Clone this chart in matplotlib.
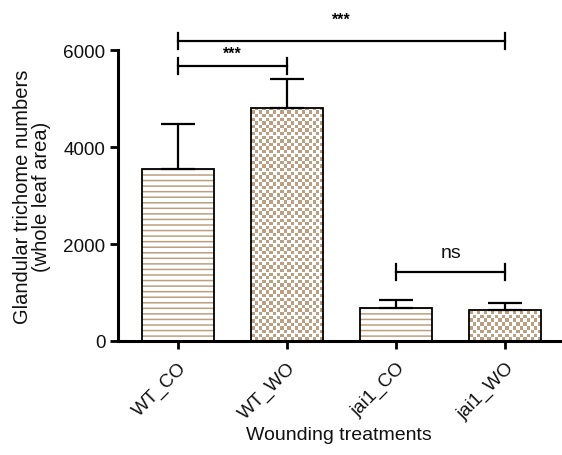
import numpy as np
import matplotlib
matplotlib.use('agg')
import matplotlib.pyplot as plt

# data
groups = ['WT_CO', 'WT_WO', 'jai1_CO', 'jai1_WO']
means = [3550, 4800, 680, 640]
errors = [930, 600, 160, 140]
patterns = ['lines', 'checker', 'lines', 'checker']

# significance brackets: (left group, right group, height, label)
brackets = [(0, 3, 6190, '***'), (0, 1, 5670, '***'), (2, 3, 1420, 'ns')]
label_gap = [300, 100, 230]  # space between bracket and its label

tan = '#bc9f80'

plt.rcParams['font.family'] = ['Liberation Sans', 'DejaVu Sans']
plt.rcParams['hatch.linewidth'] = 1.1

fig = plt.figure(figsize=(5.62, 4.56), dpi=100)
ax = fig.add_axes([0.21, 0.25, 0.786, 0.638])
x = np.arange(len(groups))
width = 0.66

ax.set_xlim(-0.55, 3.5)
ax.set_ylim(0, 6000)


def checker_image(px_w, px_h, cell=3.6, fill=3.2):
    # pixel-resolution checkerboard: tan squares slightly smaller than the cell
    j = np.arange(int(round(px_w)))
    i = np.arange(int(round(px_h)))
    cj, ci = np.floor(j / cell), np.floor(i / cell)
    on_j = (j - cj * cell) < fill
    on_i = (i - ci * cell) < fill
    par = (ci[:, None] + cj[None, :]) % 2 == 1
    return (par & on_i[:, None] & on_j[None, :]).astype(float)


for xi, m, e, p in zip(x, means, errors, patterns):
    if p == 'lines':
        ax.bar(xi, m, width, color='white', edgecolor=tan, linewidth=0,
               hatch='---', zorder=1)
    else:
        bg = ax.bar(xi, m, width, color='white', linewidth=0, zorder=1)[0]
        px_w = width * ax.bbox.width / 4.05
        px_h = m * ax.bbox.height / 6000
        cmap = matplotlib.colors.ListedColormap(['white', tan])
        im = ax.imshow(checker_image(px_w, px_h), cmap=cmap, vmin=0, vmax=1,
                       origin='lower', aspect='auto', interpolation='nearest',
                       extent=(bg.get_x(), bg.get_x() + bg.get_width(), 0, m),
                       zorder=1.5)
        im.set_clip_path(bg)
    ax.bar(xi, m, width, fill=False, edgecolor='black', linewidth=1.3, zorder=2)
    ax.errorbar(xi, m, yerr=[[0], [e]], fmt='none', ecolor='black',
                elinewidth=1.6, capsize=12, capthick=1.6, zorder=3)

ax.set_xlim(-0.55, 3.5)
ax.set_ylim(0, 6000)

for (a, b, h, lab), gap in zip(brackets, label_gap):
    ax.plot([x[a], x[b]], [h, h], color='black', lw=1.6, clip_on=False)
    for xe in (x[a], x[b]):
        ax.plot([xe, xe], [h - 165, h + 165], color='black', lw=1.6, clip_on=False)
    if lab == 'ns':
        ax.text((x[a] + x[b]) / 2, h + gap, lab, ha='center', va='bottom',
                fontsize=14, color='#111111')
    else:
        ax.text((x[a] + x[b]) / 2, h + gap, lab, ha='center', va='bottom',
                fontsize=11.5, fontweight='bold')

ax.set_yticks([0, 2000, 4000, 6000])
ax.set_xticks(x)
ax.set_xticklabels(groups, rotation=45, ha='right', rotation_mode='anchor')
ax.tick_params(axis='both', labelsize=13.6, width=2, length=6, direction='out',
               labelcolor='#111111')
ax.tick_params(axis='x', pad=7)
ax.tick_params(axis='y', pad=3)

for s in ['top', 'right']:
    ax.spines[s].set_visible(False)
ax.spines['left'].set_linewidth(2.2)
ax.spines['bottom'].set_linewidth(2.2)

ax.set_ylabel('Glandular trichome numbers\n(whole leaf area)', fontsize=14.5,
              labelpad=9, linespacing=1.0, color='#111111')
ax.set_xlabel('Wounding treatments', fontsize=14, labelpad=3, color='#111111')

fig.savefig('out.png', dpi=100, facecolor='white')
